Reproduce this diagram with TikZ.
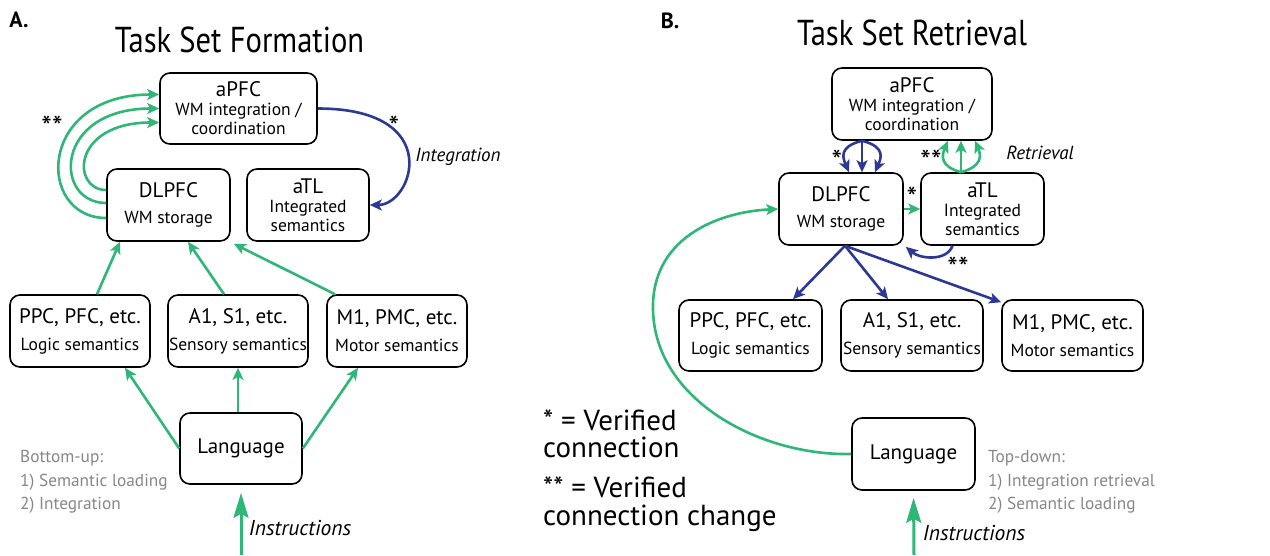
\documentclass[tikz,border=0pt]{standalone}
\usepackage{fontspec}
\setmainfont{PT Sans}
\newfontfamily\titlefont[FakeStretch=0.85]{PT Sans}
\usetikzlibrary{arrows.meta,calc}
\definecolor{mgreen}{RGB}{46,183,118}
\definecolor{mblue}{RGB}{43,57,148}
\definecolor{mgray}{RGB}{135,135,135}
\newcommand{\myBig}{\fontsize{21}{24}\selectfont}
\newcommand{\mySmall}{\fontsize{17.5}{19}\selectfont}
\begin{document}
\begin{tikzpicture}[x=1pt,y=-1pt,
  box/.style={draw, line width=1.6pt, rounded corners=10pt, align=center, inner sep=0pt, font=\mySmall},
  garr/.style={draw=mgreen, line width=2.6pt, -{Stealth[length=12pt,width=11pt,inset=3pt]}},
  barr/.style={draw=mblue, line width=2.6pt, -{Stealth[length=12pt,width=11pt,inset=3pt]}},
  iarr/.style={draw=mgreen, line width=3pt, -{Stealth[length=25pt,width=15pt,inset=4pt]}},
  star/.style={font=\fontsize{30}{30}\selectfont, inner sep=0pt},
  gtext/.style={text=mgray, align=left, anchor=west, font=\fontsize{17.3}{23.5}\selectfont, inner sep=0pt},
  ltext/.style={align=left, anchor=west, font=\fontsize{29}{27.5}\selectfont, inner sep=0pt},
  itext/.style={font=\fontsize{19}{20}\selectfont\itshape, inner sep=0pt},
  ititle/.style={font=\fontsize{21.5}{22}\selectfont\itshape, inner sep=0pt},
  ttl/.style={font=\titlefont\fontsize{36}{38}\selectfont},
  plab/.style={font=\fontsize{22}{22}\selectfont\bfseries, inner sep=0pt}]
\useasboundingbox (0,0) rectangle (1270,555);
\fill[white] (0,0) rectangle (1270,555);

% ---------- Panel A ----------
\node[plab] (labA) at (19,20) {A.};
\node[ttl] (titA) at (239.5,40) {Task Set Formation};

\node[box, minimum width=157, minimum height=71] (apA) at (238.5,108.5)
  {{\myBig aPFC}\\ WM integration /\\ coordination};
\node[box, minimum width=123, minimum height=72] (dlA) at (168.5,205)
  {{\myBig DLPFC}\\[7pt] WM storage};
\node[box, minimum width=122, minimum height=72] (atA) at (308,205)
  {{\myBig aTL}\\ Integrated\\ semantics};

\node[box, minimum width=140, minimum height=72] (ppcA) at (80,331)
  {{\myBig PPC, PFC, etc.}\\[8pt] Logic semantics};
\node[box, minimum width=140, minimum height=72] (a1A) at (238,331)
  {{\myBig A1, S1, etc.}\\[8pt] Sensory semantics};
\node[box, minimum width=140, minimum height=72] (m1A) at (397,331)
  {{\myBig M1, PMC, etc.}\\[8pt] Motor semantics};
\node[box, minimum width=122, minimum height=71, font=\myBig] (lgA) at (241,448.5) {Language};

\coordinate (inA) at (241,555);
\draw[iarr, shorten >=8pt] (inA) -- (lgA.south);
\node[ititle] (instA) at (300,528) {Instructions};

\node[gtext] (buA) at (20,482) {Bottom-up:\\1) Semantic loading\\2) Integration};

% green arcs DLPFC -> aPFC
\draw[garr] ([yshift=-13pt]dlA.west) .. controls +(-70,0) and +(-123,0) .. ([yshift=14pt]apA.west);
\draw[garr] ([yshift=2pt]dlA.west) .. controls +(-53,0) and +(-106,0) .. (apA.west);
\draw[garr] ([yshift=15pt]dlA.west) .. controls +(-35,0) and +(-88,0) .. ([yshift=-14pt]apA.west);
\node[star] (s2A) at (52,127) {**};

% blue arc aPFC -> aTL
\draw[barr] (apA.east) .. controls +(128,0) and +(43,0) .. (atA.east);
\node[star] (s1A) at (394,127) {*};
\node[itext] (intA) at (458,157) {Integration};

% semantics -> DLPFC
\draw[garr] ([xshift=17pt]ppcA.north) -- ([xshift=-48.5pt]dlA.south);
\draw[garr] ([xshift=-14pt]a1A.north) -- ([xshift=19.5pt]dlA.south);
\draw[garr] ([xshift=-62pt]m1A.north) -- ([xshift=3pt,yshift=-2pt]dlA.south east);

% language -> semantics
\draw[garr] (lgA.west) -- ([xshift=45pt]ppcA.south);
\draw[garr] (a1A.south |- lgA.north) -- (a1A.south);
\draw[garr] (lgA.east) -- ([xshift=-39pt]m1A.south);

% ---------- Legend ----------
\node[ltext] (leg1) at (543,434) {* = Verified\\connection};
\node[ltext] (leg2) at (543,504) {** = Verified\\connection change};

% ---------- Panel B ----------
\node[plab] (labB) at (670,21) {B.};
\node[ttl] (titB) at (912,33) {Task Set Retrieval};

\node[box, minimum width=160, minimum height=72] (apB) at (912,104)
  {{\myBig aPFC}\\ WM integration /\\ coordination};
\node[box, minimum width=124, minimum height=72] (dlB) at (841,209)
  {{\myBig DLPFC}\\[7pt] WM storage};
\node[box, minimum width=123, minimum height=72] (atB) at (982.5,209)
  {{\myBig aTL}\\ Integrated\\ semantics};

\node[box, minimum width=143, minimum height=71] (ppcB) at (750.5,335.5)
  {{\myBig PPC, PFC, etc.}\\[8pt] Logic semantics};
\node[box, minimum width=142, minimum height=71] (a1B) at (912,335.5)
  {{\myBig A1, S1, etc.}\\[8pt] Sensory semantics};
\node[box, minimum width=141, minimum height=71] (m1B) at (1072.5,335.5)
  {{\myBig M1, PMC, etc.}\\[8pt] Motor semantics};
\node[box, minimum width=123, minimum height=72, font=\myBig] (lgB) at (913.5,454) {Language};

\coordinate (inB) at (914,555);
\draw[iarr, shorten >=7pt] (inB) -- (lgB.south);
\node[ititle] (instB) at (974,533) {Instructions};

\node[gtext] (tdB) at (988,482) {Top-down:\\1) Integration retrieval\\2) Semantic loading};

% aPFC -> DLPFC (blue triple)
\draw[barr] ([xshift=-50pt]apB.south) -- ([xshift=21pt]dlB.north);
\draw[barr] ([xshift=-50pt]apB.south) .. controls +(-24,6) and +(-6,-14) .. ([xshift=8pt]dlB.north);
\draw[barr] ([xshift=-50pt]apB.south) .. controls +(24,6) and +(6,-14) .. ([xshift=34pt]dlB.north);
\node[star] (s1B) at (837,161) {*};

% aTL -> aPFC (green triple)
\draw[garr] ([xshift=-21.5pt]atB.north) -- ([xshift=49pt]apB.south);
\draw[garr] ([xshift=-21.5pt]atB.north) .. controls +(-22,-6) and +(-6,14) .. ([xshift=36pt]apB.south);
\draw[garr] ([xshift=-21.5pt]atB.north) .. controls +(22,-6) and +(6,14) .. ([xshift=63pt]apB.south);
\node[star] (s2B) at (931,161) {**};
\node[itext] (retB) at (1040,153) {Retrieval};

% DLPFC -> aTL
\draw[garr] (dlB.east) -- (atB.west);
\node[star] (s3B) at (912,198) {*};

% aTL -> DLPFC (blue)
\draw[barr] ([xshift=-30pt]atB.south) .. controls +(-6,16) and +(14,12) .. ([xshift=2pt,yshift=-1pt]dlB.south east);
\node[star] (s4B) at (958,268) {**};

% DLPFC -> semantics (blue)
\draw[barr] ([xshift=4pt]dlB.south) -- ([xshift=42.5pt]ppcB.north);
\draw[barr] ([xshift=4pt]dlB.south) -- ([xshift=-24pt]a1B.north);
\draw[barr] ([xshift=4pt]dlB.south) -- ([yshift=-3pt]m1B.north west);

% Language -> DLPFC (big green arc)
\coordinate (arcL) at (653,310);
\draw[garr] (lgB.west) .. controls (760,456) and (655,400) .. (arcL)
  .. controls (651,240) and (715,212) .. (dlB.west);
\end{tikzpicture}
\end{document}
